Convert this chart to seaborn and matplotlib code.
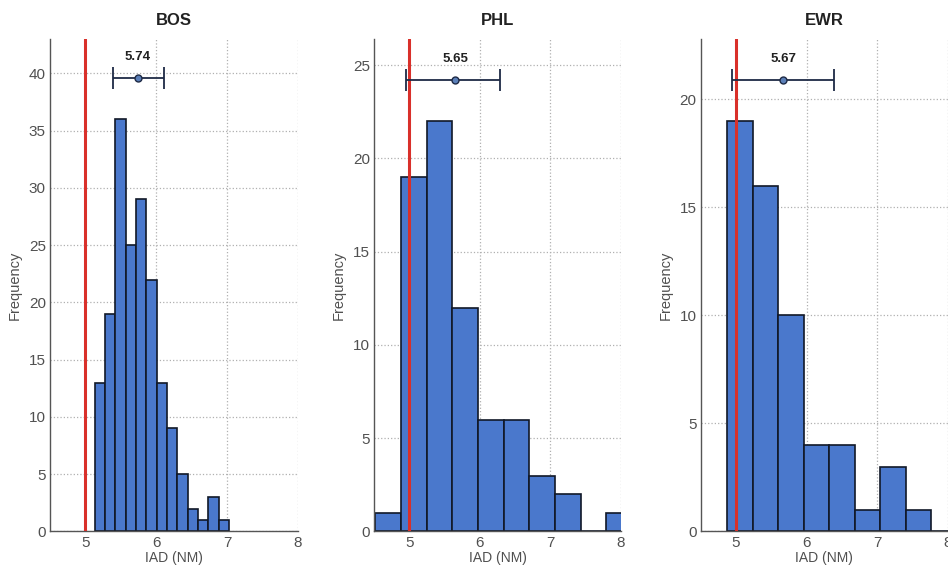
import numpy as np
import pandas as pd
import matplotlib
matplotlib.use("Agg")
import matplotlib.pyplot as plt
import seaborn as sns

# ─── data ───────────────────────────────────────────────────────────────
airports = ["BOS", "PHL", "EWR"]

bos_edges = np.linspace(5.132, 7.026, 14)
bos_counts = [13, 19, 36, 25, 29, 22, 13, 9, 5, 2, 1, 3, 1]

phl_edges = np.linspace(4.519, 8.155, 11)
phl_counts = [1, 19, 22, 12, 6, 6, 3, 2, 0, 1]

ewr_edges = np.linspace(4.873, 8.131, 10)
ewr_counts = [19, 16, 10, 4, 4, 1, 3, 1, 0]

means = [5.74, 5.65, 5.67]
err_lo = [5.39, 4.96, 4.94]
err_hi = [6.105, 6.29, 6.39]
err_y = [39.6, 24.2, 20.9]

ylims = [43.0, 26.4, 22.8]
ytick_max = [40, 25, 20]
xticks = [5, 6, 7, 8]
threshold = 5.0

# ─── style ──────────────────────────────────────────────────────────────
sns.set_style("white")
plt.rcParams["font.family"] = ["Liberation Sans", "DejaVu Sans"]

bar_color = "#4a78cc"
red = "#d9302a"
navy = "#1e2a45"
text_gray = "#505050"

fig = plt.figure(figsize=(9.48, 5.68), dpi=100)
positions = [
    [0.0527, 0.0643, 0.2616, 0.867],
    [0.3945, 0.0643, 0.2605, 0.867],
    [0.7391, 0.0643, 0.2605, 0.867],
]

all_edges = [bos_edges, phl_edges, ewr_edges]
all_counts = [bos_counts, phl_counts, ewr_counts]

for i, name in enumerate(airports):
    ax = fig.add_axes(positions[i])
    edges = all_edges[i]
    centers = (edges[:-1] + edges[1:]) / 2
    df = pd.DataFrame({"iad": centers, "n": all_counts[i]})

    sns.histplot(data=df, x="iad", weights="n", bins=list(edges), ax=ax,
                 color=bar_color, alpha=1.0, edgecolor="#111827",
                 linewidth=1.2, zorder=2)

    ax.axvline(threshold, color=red, lw=2.2, zorder=3)

    # mean +/- spread marker
    m = means[i]
    ax.errorbar([m], [err_y[i]],
                xerr=[[m - err_lo[i]], [err_hi[i] - m]],
                fmt="o", color=navy, ecolor=navy, elinewidth=1.3,
                capsize=8, capthick=1.3, markersize=5,
                markerfacecolor="#5b7fb8", markeredgecolor=navy, zorder=4)
    ax.annotate(f"{m:.2f}", (m, err_y[i]), xytext=(0, 11),
                textcoords="offset points", ha="center", va="bottom",
                fontsize=9.5, fontweight="bold", color="#222222")

    ax.set_xlim(4.5, 8)
    ax.set_ylim(0, ylims[i])
    ax.set_xticks(xticks)
    ax.set_yticks(np.arange(0, ytick_max[i] + 1, 5))

    ax.grid(True, linestyle=":", color="#b0b0b0", linewidth=0.9, zorder=0)
    ax.set_axisbelow(True)

    for s in ["top", "right"]:
        ax.spines[s].set_visible(False)
    for s in ["left", "bottom"]:
        ax.spines[s].set_color("#555555")
        ax.spines[s].set_linewidth(1.0)

    ax.tick_params(direction="in", length=3, labelsize=11,
                   colors="#555555", labelcolor=text_gray, pad=3)

    ax.set_title(name, fontsize=12, fontweight="bold", pad=10, color="#222222")
    ax.set_xlabel("IAD (NM)", fontsize=10, color=text_gray, labelpad=1)
    ax.set_ylabel("Frequency", fontsize=10.5, color=text_gray, labelpad=5)

fig.savefig("out.png", dpi=100)
